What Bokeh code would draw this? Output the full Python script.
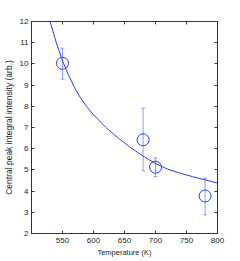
from bokeh.plotting import figure
from bokeh.models import Range1d, LinearAxis, FixedTicker, ColumnDataSource, Whisker, TeeHead
from bokeh.embed import file_html
from bokeh.resources import INLINE

# measured data points
temps = [550, 680, 700, 780]
intensity = [10.03, 6.42, 5.13, 3.77]
err_low = [9.28, 4.96, 4.69, 2.88]
err_high = [10.74, 7.91, 5.57, 4.61]

# fitted curve
curve_t = [528, 530, 540, 550, 560, 570, 580, 590, 600, 620, 640, 660, 680, 700, 720, 740, 760, 780, 800]
curve_y = [12.2, 12.0, 11.0, 10.15, 9.45, 8.85, 8.35, 7.95, 7.6, 7.0, 6.5, 6.05, 5.65, 5.3, 5.03, 4.84, 4.68, 4.53, 4.38]

x_ticks = [550, 600, 650, 700, 750, 800]
y_ticks = [2, 3, 4, 5, 6, 7, 8, 9, 10, 11, 12]

FONT = "Liberation Sans"
AX = "#333333"
BLUE = "#2a3cff"
EBLUE = "#8f9cff"

p = figure(frame_width=186, frame_height=212, output_backend="svg", toolbar_location=None,
           x_range=Range1d(500, 800), y_range=Range1d(2, 12),
           min_border_left=25, min_border_right=15, min_border_top=21, min_border_bottom=22)
p.grid.visible = False
p.outline_line_color = AX
p.outline_line_width = 1
p.background_fill_color = "white"
p.border_fill_color = "white"

def style(ax, labels=True):
    ax.axis_line_color = AX
    ax.major_tick_line_color = AX
    ax.minor_tick_line_color = None
    ax.major_tick_in = 3
    ax.major_tick_out = 0
    ax.major_label_text_font = FONT
    ax.major_label_text_font_size = "8px"
    ax.major_label_text_color = "#222222"
    ax.axis_label_text_font = FONT
    ax.axis_label_text_font_size = "7.5px"
    ax.axis_label_text_font_style = "normal"
    ax.axis_label_text_color = "#222222"
    if not labels:
        ax.major_label_text_alpha = 0
        ax.major_label_text_font_size = "0px"

p.xaxis.ticker = FixedTicker(ticks=x_ticks)
p.yaxis.ticker = FixedTicker(ticks=y_ticks)
p.xaxis.axis_label = "Temperature (K)"
p.yaxis.axis_label = "Central peak integral intensity (arb.)"
style(p.xaxis[0])
style(p.yaxis[0])
p.yaxis.axis_label_text_font_size = "8.5px"
p.xaxis.major_label_standoff = 4
p.yaxis.major_label_standoff = 3
p.xaxis.axis_label_standoff = 2
p.yaxis.axis_label_standoff = 3

top = LinearAxis(ticker=FixedTicker(ticks=x_ticks))
style(top, labels=False)
p.add_layout(top, "above")
right = LinearAxis(ticker=FixedTicker(ticks=y_ticks))
style(right, labels=False)
p.add_layout(right, "right")

p.line(curve_t, curve_y, line_color=BLUE, line_width=1.0)

src = ColumnDataSource(dict(x=temps, y=intensity, lo=err_low, hi=err_high))
w = Whisker(source=src, base="x", lower="lo", upper="hi", line_color=EBLUE, line_width=1,
            lower_head=TeeHead(size=4, line_color=EBLUE), upper_head=TeeHead(size=4, line_color=EBLUE))
p.add_layout(w)
p.scatter("x", "y", source=src, marker="circle", size=12, fill_color=None, line_color=BLUE, line_width=1)

open("out.html", "w").write(file_html(p, INLINE))
